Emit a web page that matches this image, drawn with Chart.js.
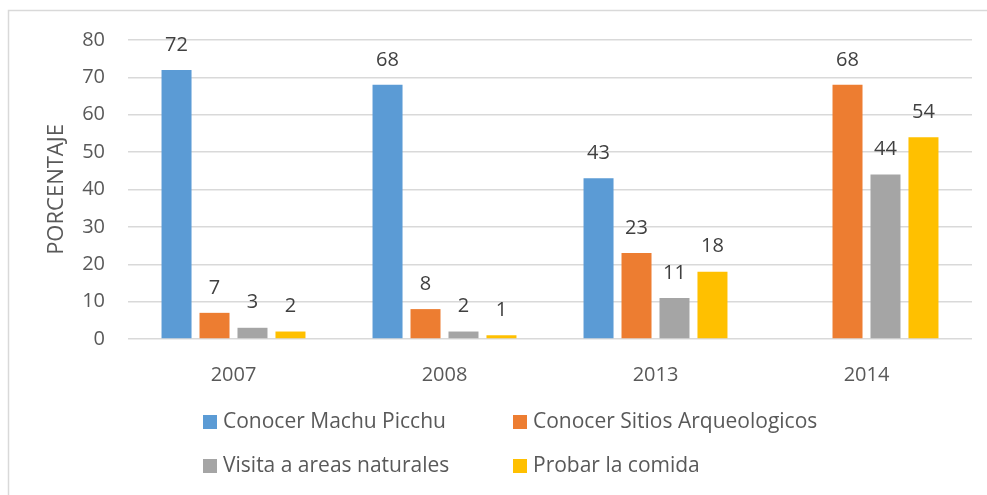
<!DOCTYPE html>
<html>
<head>
<meta charset="utf-8">
<script src="https://cdn.jsdelivr.net/npm/chart.js@4"></script>
<style>
  html, body { margin: 0; padding: 0; background: #fff; }
  #wrap { position: relative; width: 987px; height: 495px; }
</style>
</head>
<body>
<div id="wrap"><canvas id="chart" width="987" height="495"></canvas></div>
<script>
const years = ['2007', '2008', '2013', '2014']
const machuPicchu = [72, 68, 43, null]
const sitiosArqueologicos = [7, 8, 23, 68]
const areasNaturales = [3, 2, 11, 44]
const probarComida = [2, 1, 18, 54]
const yTicks = [0, 10, 20, 30, 40, 50, 60, 70, 80]

const FONT = "'Open Sans', sans-serif"
const gridColor = '#d9d9d9'
const textColor = '#595959'

// light frame around the chart, like the office chart border
const frame = {
  id: 'frame',
  beforeDraw(chart) {
    const { ctx } = chart
    ctx.save()
    ctx.strokeStyle = gridColor
    ctx.lineWidth = 1.5
    ctx.strokeRect(8.5, 10.5, 1100, 1000)
    ctx.restore()
  },
}

// value labels above each bar
const valueLabels = {
  id: 'valueLabels',
  afterDatasetsDraw(chart) {
    const { ctx } = chart
    ctx.save()
    ctx.font = '20px ' + FONT
    ctx.fillStyle = '#404040'
    ctx.textAlign = 'center'
    ctx.textBaseline = 'middle'
    chart.data.datasets.forEach((ds, i) => {
      const meta = chart.getDatasetMeta(i)
      meta.data.forEach((bar, j) => {
        const v = ds.data[j]
        if (v == null) return
        ctx.fillText(String(v), bar.x, bar.y - 25)
      })
    })
    ctx.restore()
  },
}

// two-column legend under the chart
const gridLegend = {
  id: 'gridLegend',
  afterDraw(chart) {
    const { ctx } = chart
    const cols = [203, 513]
    const rows = [422, 466]
    ctx.save()
    ctx.font = '21px ' + FONT
    ctx.textBaseline = 'middle'
    ctx.textAlign = 'left'
    chart.data.datasets.forEach((ds, i) => {
      const x = cols[i % 2]
      const y = rows[Math.floor(i / 2)]
      ctx.fillStyle = ds.backgroundColor
      ctx.fillRect(x, y - 7, 14, 14)
      ctx.fillStyle = textColor
      ctx.fillText(ds.label, x + 20, y)
    })
    ctx.restore()
  },
}

const ds = [
  { label: 'Conocer Machu Picchu', data: machuPicchu, backgroundColor: '#5b9bd5' },
  { label: 'Conocer Sitios Arqueologicos', data: sitiosArqueologicos, backgroundColor: '#ed7d31' },
  { label: 'Visita a areas naturales', data: areasNaturales, backgroundColor: '#a5a5a5' },
  { label: 'Probar la comida', data: probarComida, backgroundColor: '#ffc000' },
].map((d) => ({ ...d, categoryPercentage: 0.72, barPercentage: 0.79 }))

const config = {
  type: 'bar',
  data: { labels: years, datasets: ds },
  options: {
    responsive: false,
    animation: false,
    layout: { padding: { top: 40, right: 15, bottom: 0, left: 0 } },
    scales: {
      x: {
        grid: { display: false },
        border: { display: false },
        ticks: { color: textColor, font: { family: FONT, size: 20 }, padding: 16 },
        afterFit: (s) => { s.height = 156 },
      },
      y: {
        min: 0,
        max: 80,
        afterBuildTicks: (s) => { s.ticks = yTicks.map((v) => ({ value: v })) },
        grid: { color: gridColor, lineWidth: 1.5, drawTicks: false },
        border: { display: false },
        ticks: { color: textColor, font: { family: FONT, size: 20 }, padding: 23 },
        title: {
          display: true,
          text: 'PORCENTAJE',
          color: textColor,
          font: { family: FONT, size: 22 },
          padding: { top: 44, bottom: 0 },
        },
        afterFit: (s) => { s.width = 128 },
      },
    },
    plugins: {
      legend: { display: false },
      tooltip: { enabled: false },
    },
  },
  plugins: [frame, valueLabels, gridLegend],
}

new Chart(document.getElementById('chart'), config)
</script>
</body>
</html>
